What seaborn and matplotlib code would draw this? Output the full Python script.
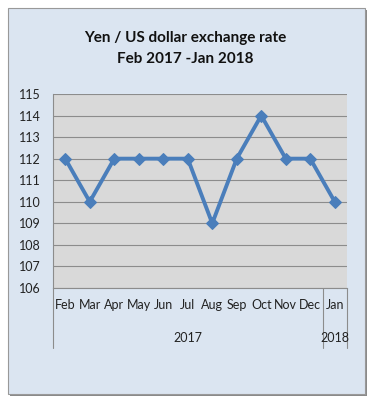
import numpy as np
import pandas as pd
import seaborn as sns
import matplotlib.pyplot as plt
from matplotlib.patches import Rectangle

months = ["Feb", "Mar", "Apr", "May", "Jun", "Jul", "Aug", "Sep", "Oct", "Nov", "Dec", "Jan"]
rates = [112, 110, 112, 112, 112, 112, 109, 112, 114, 112, 112, 110]
years = ["2017", "2018"]
yticks = list(range(106, 116))

sns.set_style("white")
plt.rcParams['font.family'] = ['Lato', 'DejaVu Sans']

df = pd.DataFrame({"pos": np.arange(len(months)), "rate": rates})

fig = plt.figure(figsize=(3.8, 4.09), dpi=100)
# outer chart box with a thin shadow
fig.patches.append(Rectangle((10 / 380, 1 - 396 / 409), 357 / 380, 386 / 409,
                             transform=fig.transFigure, facecolor="#8a8a8a", edgecolor="none", zorder=-10))
fig.patches.append(Rectangle((8 / 380, 1 - 394 / 409), 357 / 380, 386 / 409,
                             transform=fig.transFigure, facecolor="#dbe5f1", edgecolor="#999999",
                             linewidth=0.8, zorder=-9))

ax = fig.add_axes([53 / 380, 1 - 288 / 409, 294 / 380, 194 / 409])
ax.set_facecolor("#d9d9d9")
ax.set_ylim(106, 115)
ax.set_xlim(-0.5, 11.5)
ax.set_yticks(yticks)
ax.yaxis.grid(True, color="#8c8c8c", linewidth=0.8)
ax.set_axisbelow(True)

sns.lineplot(data=df, x="pos", y="rate", ax=ax, color="#4a7ebb", linewidth=2.8,
             marker="D", markersize=6, markeredgecolor="#4a7ebb")

ax.set_xticks(df["pos"])
ax.set_xticklabels(months, fontsize=9, color="#222222")
ax.set_yticklabels([str(v) for v in yticks], fontsize=9, color="#222222")
ax.tick_params(length=0, axis="x", pad=8)
ax.tick_params(length=0, axis="y", pad=9)
ax.set_xlabel("")
ax.set_ylabel("")
for s in ["top", "right"]:
    ax.spines[s].set_visible(False)
for s in ["left", "bottom"]:
    ax.spines[s].set_color("#8c8c8c")
    ax.spines[s].set_linewidth(0.8)

# category group separators and year labels
tr = ax.get_xaxis_transform()
for xpos in [-0.5, 10.5, 11.5]:
    ax.plot([xpos, xpos], [0, -0.31], transform=tr, color="#8c8c8c", linewidth=0.8, clip_on=False)
ax.text(5, -0.258, years[0], transform=tr, ha="center", va="center", fontsize=9, color="#222222")
ax.text(11, -0.258, years[1], transform=tr, ha="center", va="center", fontsize=9, color="#222222")

fig.text(185 / 380, 1 - 38 / 409, "Yen / US dollar exchange rate", ha="center", va="center",
         fontsize=11, fontweight="bold", color="#111111")
fig.text(185 / 380, 1 - 59 / 409, "Feb 2017 -Jan 2018", ha="center", va="center",
         fontsize=11, fontweight="bold", color="#111111")

fig.savefig("out.png", dpi=100)
